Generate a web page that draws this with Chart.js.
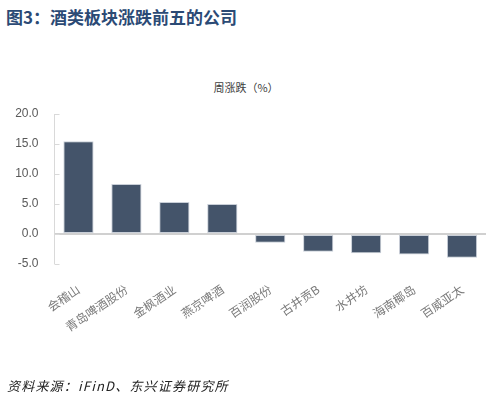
<!DOCTYPE html>
<html>
<head>
<meta charset="utf-8">
<script src="https://cdn.jsdelivr.net/npm/chart.js@4"></script>
<style>
    body { margin: 0; background: #fff; }
    #wrap { position: relative; width: 492px; height: 399px; overflow: hidden; }
    #chart { position: absolute; left: 0; top: 0; }
    .titulo { position: absolute; left: 6px; top: 4px; font: bold 17px "Noto Sans CJK SC", sans-serif; color: #2b4a75; white-space: nowrap; }
    .sub { position: absolute; left: 0; width: 492px; top: 79px; text-align: center; font: 11px "Noto Sans CJK SC", sans-serif; color: #404040; }
    .fonte { position: absolute; left: 7px; top: 376px; font: italic 13px "Noto Sans CJK SC", sans-serif; color: #222; white-space: nowrap; letter-spacing: 1.2px; }
</style>
</head>
<body>
<div id="wrap">
    <div class="titulo">图3：酒类板块涨跌前五的公司</div>
    <div class="sub">周涨跌（%）</div>
    <canvas id="chart" width="492" height="399"></canvas>
    <div class="fonte">资料来源：iFinD、东兴证券研究所</div>
</div>
<script>
const empresas = ['会稽山', '青岛啤酒股份', '金枫酒业', '燕京啤酒', '百润股份', '古井贡B', '水井坊', '海南椰岛', '百威亚太']
const variacao = [15.45, 8.33, 5.33, 5.0, -1.45, -2.95, -3.2, -3.4, -3.95]
const eixoY = [-5, 0, 5, 10, 15, 20]

// ticks pequenos para dentro do eixo y
const ticksDentro = {
    id: 'ticksDentro',
    afterDraw(chart) {
        const y = chart.scales.y
        const ctx = chart.ctx
        ctx.save()
        ctx.strokeStyle = '#d9d9d9'
        ctx.lineWidth = 1
        eixoY.forEach(v => {
            const py = Math.round(y.getPixelForValue(v)) + 0.5
            ctx.beginPath()
            ctx.moveTo(y.right, py)
            ctx.lineTo(y.right + 5, py)
            ctx.stroke()
        })
        ctx.restore()
    }
}

new Chart(document.getElementById('chart'), {
    type: 'bar',
    data: {
        labels: empresas,
        datasets: [{
            data: variacao,
            backgroundColor: '#44546a',
            borderColor: '#c9cfd8',
            borderWidth: 1,
            borderSkipped: false,
            categoryPercentage: 1,
            barPercentage: 0.63
        }]
    },
    options: {
        responsive: false,
        animation: false,
        layout: { padding: { top: 114, right: 6, left: 0, bottom: 35 } },
        plugins: { legend: { display: false }, tooltip: { enabled: false } },
        scales: {
            x: {
                grid: { display: false },
                border: { display: false },
                afterFit: s => { s.height = 100 },
                ticks: {
                    autoSkip: false,
                    minRotation: 34,
                    maxRotation: 34,
                    padding: 10,
                    color: '#7a7a7a',
                    font: { family: '"Noto Sans CJK SC"', size: 12 }
                }
            },
            y: {
                min: -5,
                max: 20,
                afterFit: s => { s.width = 54.5 },
                afterBuildTicks: s => { s.ticks = eixoY.map(v => ({ value: v })) },
                border: { color: '#d9d9d9', width: 1 },
                grid: {
                    drawTicks: false,
                    color: c => c.tick && c.tick.value === 0 ? '#d0d0d0' : 'rgba(0,0,0,0)',
                    lineWidth: c => c.tick && c.tick.value === 0 ? 2 : 0
                },
                ticks: {
                    padding: 16,
                    color: '#595959',
                    font: { family: '"Liberation Sans"', size: 12 },
                    callback: v => v.toFixed(1)
                }
            }
        }
    },
    plugins: [ticksDentro]
})
</script>
</body>
</html>
